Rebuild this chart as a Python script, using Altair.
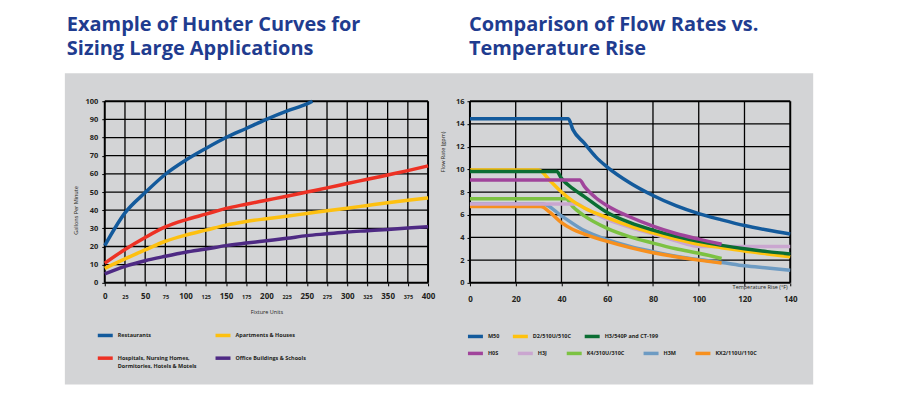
import altair as alt
import pandas as pd

# ---------------- Left chart: Hunter curves ----------------
fixture_units = [0, 25, 50, 75, 100, 125, 150, 175, 200, 225, 250, 275, 300, 325, 350, 375, 400]
restaurant_units = [0, 25, 50, 75, 100, 125, 150, 175, 200, 225, 250, 257]
restaurants_gpm = [20.5, 38.5, 49.7, 59.8, 67.5, 74, 80, 85, 90, 94.5, 98.5, 100]
hospitals_gpm = [10.8, 18.4, 25, 30.8, 34.7, 37.8, 41, 43.3, 45.5, 47.7, 50, 52.3, 54.7, 57, 59.4, 61.8, 64.4]
apartments_gpm = [8, 13.2, 18.1, 22.9, 26.3, 29, 31.8, 33.8, 35.3, 36.7, 38.2, 39.7, 41.1, 42.6, 44.1, 45.5, 46.8]
office_gpm = [4.9, 9.1, 12.2, 14.6, 16.8, 18.6, 20.5, 21.9, 23.2, 24.5, 26, 27, 28, 28.7, 29.4, 30.2, 30.9]

left_names = ["Restaurants", "Apartments & Houses",
              "Hospitals, Nursing Homes, Dormitories, Hotels & Motels",
              "Office Buildings & Schools"]
left_colors = ["#135a9c", "#fdc010", "#ed3124", "#4e2a84"]

left_x_ticks = fixture_units
left_y_ticks = [0, 10, 20, 30, 40, 50, 60, 70, 80, 90, 100]

# ---------------- Right chart: flow rate vs temperature rise ----------------
m50_t = [0, 43, 45, 50, 55, 60, 70, 80, 90, 100, 110, 120, 130, 140]
m50_f = [14.45, 14.45, 13.5, 12.3, 11.1, 10.2, 8.8, 7.7, 6.8, 6.1, 5.55, 5.05, 4.65, 4.3]
d2_t = [0, 30, 35, 40, 45, 50, 60, 70, 80, 90, 100, 110, 120, 130, 140]
d2_f = [9.95, 9.95, 9.0, 8.0, 7.2, 6.6, 5.75, 5.0, 4.4, 3.85, 3.4, 3.1, 2.8, 2.55, 2.3]
h3_t = [0, 38, 40, 45, 50, 60, 70, 80, 90, 100, 110, 120, 130, 140]
h3_f = [9.8, 9.8, 9.2, 8.3, 7.6, 6.2, 5.3, 4.65, 4.1, 3.65, 3.3, 3.0, 2.75, 2.55]
h0s_t = [0, 48, 50, 55, 60, 70, 80, 90, 100, 110]
h0s_f = [9.07, 9.07, 8.5, 7.5, 6.8, 5.8, 5.0, 4.35, 3.85, 3.4]
h3j_t = [0, 47, 50, 60, 70, 80, 90, 97, 100, 120, 140]
h3j_f = [6.95, 6.95, 6.6, 5.6, 4.9, 4.3, 3.7, 3.3, 3.2, 3.2, 3.2]
k4_t = [0, 42, 45, 50, 60, 70, 80, 90, 100, 110]
k4_f = [7.4, 7.4, 6.7, 5.9, 4.8, 4.05, 3.5, 3.0, 2.6, 2.15]
h3m_t = [0, 32, 40, 50, 60, 70, 80, 90, 100, 110, 120, 130, 140]
h3m_f = [6.95, 6.95, 5.9, 4.6, 3.8, 3.2, 2.75, 2.35, 2.05, 1.8, 1.5, 1.3, 1.1]
kx2_t = [0, 31, 35, 40, 45, 50, 60, 70, 80, 90, 100, 110]
kx2_f = [6.72, 6.72, 6.2, 5.3, 4.7, 4.3, 3.65, 3.1, 2.65, 2.3, 2.0, 1.75]

row1_names = ["M50", "D2/510U/510C", "H3/540P and CT-199"]
row1_colors = ["#135a9c", "#ffc20e", "#0b6e33"]
row2_names = ["H0S", "H3J", "K4/310U/310C", "H3M", "KX2/110U/110C"]
row2_colors = ["#a0449b", "#caa6d0", "#7cc242", "#6d9bc3", "#f7901e"]

right_x_ticks = [0, 20, 40, 60, 80, 100, 120, 140]
right_y_ticks = [0, 2, 4, 6, 8, 10, 12, 14, 16]

# ---------------- styling ----------------
GRAY = "#d3d4d6"
TITLE_BLUE = "#1f3c8f"
TXT = "#231f20"
FONT = "Open Sans"
LINE_W = 3.5

def long(name, xs, ys, xk, yk):
    return pd.DataFrame({xk: xs, yk: ys, "series": name})

left_df = pd.concat([
    long(left_names[0], restaurant_units, restaurants_gpm, "units", "gpm"),
    long(left_names[1], fixture_units, apartments_gpm, "units", "gpm"),
    long(left_names[2], fixture_units, hospitals_gpm, "units", "gpm"),
    long(left_names[3], fixture_units, office_gpm, "units", "gpm"),
], ignore_index=True)

right_series = [
    ("H3M", h3m_t, h3m_f), ("KX2/110U/110C", kx2_t, kx2_f), ("K4/310U/310C", k4_t, k4_f),
    ("H3J", h3j_t, h3j_f), ("D2/510U/510C", d2_t, d2_f), ("H3/540P and CT-199", h3_t, h3_f),
    ("H0S", h0s_t, h0s_f), ("M50", m50_t, m50_f),
]
right_df = pd.concat([long(n, t, f, "t", "f") for n, t, f in right_series], ignore_index=True)

one = pd.DataFrame({"k": [0]})

def grid_layers(xticks, yticks, xs, ys, xaxis, yaxis):
    gx = pd.DataFrame({"v": xticks, "edge": [v in (xticks[0], xticks[-1]) for v in xticks]})
    gy = pd.DataFrame({"v": yticks, "edge": [v in (yticks[0], yticks[-1]) for v in yticks]})
    vr = alt.Chart(gx).mark_rule(color="black").encode(
        x=alt.X("v:Q", scale=xs, axis=xaxis),
        strokeWidth=alt.condition("datum.edge", alt.value(2), alt.value(1.3)),
    )
    hr = alt.Chart(gy).mark_rule(color="black").encode(
        y=alt.Y("v:Q", scale=ys, axis=yaxis),
        strokeWidth=alt.condition("datum.edge", alt.value(2), alt.value(1.3)),
    )
    return vr, hr

axis_common = dict(grid=False, domain=False, ticks=True, tickSize=3, tickColor="black",
                   labelFont=FONT, labelColor=TXT, labelFontWeight="bold",
                   titleFont=FONT, titleColor=TXT, titleFontWeight="normal", titleFontSize=5.5,
                   zindex=1)

# ---- left chart ----
xL = alt.Scale(domain=[0, 400], nice=False, zero=False)
yL = alt.Scale(domain=[0, 100], nice=False)

left_xaxis = alt.Axis(values=left_x_ticks, title="Fixture Units", labelPadding=11,
                      labelFontSize={"condition": {"test": "datum.value % 50 === 0", "value": 8}, "value": 5.5},
                      labelBaseline="middle", labelFlush=False,
                      titleY=29, titleBaseline="middle", **axis_common)
left_yaxis = alt.Axis(values=left_y_ticks, title="Gallons Per Minute", labelPadding=4, labelFontSize=7.5,
                      titleX=-29, titleY=109, titleAlign="center", titleBaseline="middle",
                      titleAngle=270, **axis_common)

frame = alt.Chart(one).mark_rect(fill="white", fillOpacity=0, strokeOpacity=0).encode(
    x=alt.value(-104), x2=alt.value(796), y=alt.value(-100), y2=alt.value(315))
panel = alt.Chart(one).mark_rect(fill=GRAY).encode(
    x=alt.value(-40), x2=alt.value(710), y=alt.value(-28), y2=alt.value(284))

lv, lh = grid_layers(left_x_ticks, left_y_ticks, xL, yL, left_xaxis, left_yaxis)

left_legend = alt.Legend(
    orient="none", legendX=-9, legendY=225, columns=2, direction="horizontal",
    title=None, symbolType="stroke", symbolSize=225, symbolStrokeWidth=3.5,
    labelFont=FONT, labelFontSize=5.5, labelColor=TXT, labelFontWeight="bold",
    labelOffset=3, columnPadding=11, rowPadding=6, gridAlign="each", zindex=1,
    labelLimit=300,
    labelExpr="datum.label == 'Hospitals, Nursing Homes, Dormitories, Hotels & Motels' ? "
              "['Hospitals, Nursing Homes,', 'Dormitories, Hotels & Motels'] : datum.label",
)

left_lines = alt.Chart(left_df).mark_line(strokeWidth=LINE_W, interpolate="monotone").encode(
    x=alt.X("units:Q", scale=xL, axis=left_xaxis),
    y=alt.Y("gpm:Q", scale=yL, axis=left_yaxis),
    color=alt.Color("series:N", scale=alt.Scale(domain=left_names, range=left_colors), legend=left_legend),
)

title_common = dict(anchor="start", frame="group", font=FONT, fontSize=20, fontWeight="bold",
                    color=TITLE_BLUE, lineHeight=24)

left = alt.layer(frame, panel, lv, lh, left_lines).properties(
    width=324, height=182,
    title=alt.TitleParams(text=["Example of Hunter Curves for", "Sizing Large Applications"],
                          dx=-38, offset=-58, **title_common),
)

# ---- right chart ----
xR = alt.Scale(domain=[0, 140], nice=False, zero=False)
yR = alt.Scale(domain=[0, 16], nice=False)

right_xaxis = alt.Axis(values=right_x_ticks, title="Temperature Rise (°F)", labelPadding=14, labelFontSize=8,
                       labelBaseline="middle", labelFlush=False,
                       titleX=318, titleY=4, titleAlign="right", titleBaseline="middle", **axis_common)
right_yaxis = alt.Axis(values=right_y_ticks, title="Flow Rate (gpm)", labelPadding=3, labelFontSize=7.5,
                       titleX=-28, titleY=30, titleAlign="right", titleBaseline="middle",
                       titleAngle=270, **axis_common)

rv, rh = grid_layers(right_x_ticks, right_y_ticks, xR, yR, right_xaxis, right_yaxis)

legend_common = dict(orient="none", direction="horizontal", title=None, symbolType="stroke",
                     symbolSize=225, symbolStrokeWidth=3.5, labelFont=FONT, labelFontSize=5.5,
                     labelColor=TXT, labelFontWeight="bold", labelOffset=3,
                     gridAlign="each", zindex=1)
legend1 = alt.Legend(legendX=-4, legendY=226, columnPadding=6, **legend_common)
legend2 = alt.Legend(legendX=-4, legendY=243, columnPadding=12, **legend_common)

right_layers = []
for name, _, _ in right_series:
    base = alt.Chart(right_df).transform_filter(alt.datum.series == name).mark_line(
        strokeWidth=LINE_W, interpolate="monotone")
    enc = dict(x=alt.X("t:Q", scale=xR, axis=right_xaxis), y=alt.Y("f:Q", scale=yR, axis=right_yaxis))
    if name in row1_names:
        enc["color"] = alt.Color("series:N", scale=alt.Scale(domain=row1_names, range=row1_colors), legend=legend1)
    else:
        enc["stroke"] = alt.Stroke("series:N", scale=alt.Scale(domain=row2_names, range=row2_colors), legend=legend2)
    right_layers.append(base.encode(**enc))

right = alt.layer(rv, rh, *right_layers).properties(
    width=321, height=182,
    title=alt.TitleParams(text=["Comparison of Flow Rates vs.", "Temperature Rise"],
                          dx=-1, offset=38, **title_common),
)

chart = alt.hconcat(left, right, spacing=42, bounds="flush").resolve_scale(
    color="independent", stroke="independent"
).properties(
    padding=0, autosize=alt.AutoSizeParams(type="pad"),
).configure_view(stroke=None).configure(background="white")

chart.save("out.html", embed_options={"renderer": "svg", "actions": False})
